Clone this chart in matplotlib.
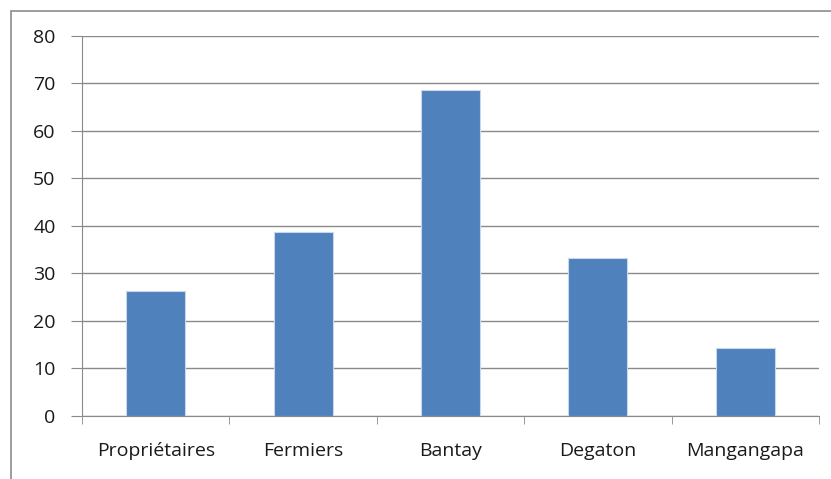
import matplotlib.pyplot as plt
from matplotlib.patches import Rectangle

categories = ['Propriétaires', 'Fermiers', 'Bantay', 'Degaton', 'Mangangapa']
values = [26.2, 38.7, 68.6, 33.3, 14.3]

plt.rcParams['font.family'] = ['Open Sans', 'DejaVu Sans']

fig = plt.figure(figsize=(8.31, 4.79), dpi=100)
W, H = 831, 479
ax = fig.add_axes([82 / W, 1 - 415.7 / H, (819 - 82) / W, (415.7 - 36) / H])

# chart frame
fig.patches.append(Rectangle((11 / W, -0.05), 1.2, 1 - 11 / H + 0.05,
                             transform=fig.transFigure, fill=False,
                             edgecolor='#8c8c8c', linewidth=1.2))

x = range(len(categories))
ax.bar(x, values, width=0.4, color='#4F81BD', edgecolor='#c9d7ea', linewidth=0.8, zorder=3)

ax.set_xlim(-0.5, len(categories) - 0.5)
ax.set_ylim(0, 80)
ax.set_yticks(range(0, 81, 10))
ax.yaxis.grid(True, color='#8a8a8a', linewidth=1.0, zorder=0)

ax.set_xticks(x)
ax.set_xticklabels(categories)
ax.set_xticks([i + 0.5 for i in range(-1, len(categories))], minor=True)
ax.tick_params(axis='x', which='major', length=0, pad=19, labelsize=14, colors='#1a1a1a')
ax.tick_params(axis='x', which='minor', length=6, color='#8a8a8a', direction='out')
ax.tick_params(axis='y', length=8, color='#8a8a8a', pad=11, labelsize=14, labelcolor='#1a1a1a')

for s in ['top', 'right']:
    ax.spines[s].set_visible(False)
ax.spines['left'].set_color('#8a8a8a')
ax.spines['bottom'].set_color('#8a8a8a')

fig.savefig('out.png', dpi=100)
